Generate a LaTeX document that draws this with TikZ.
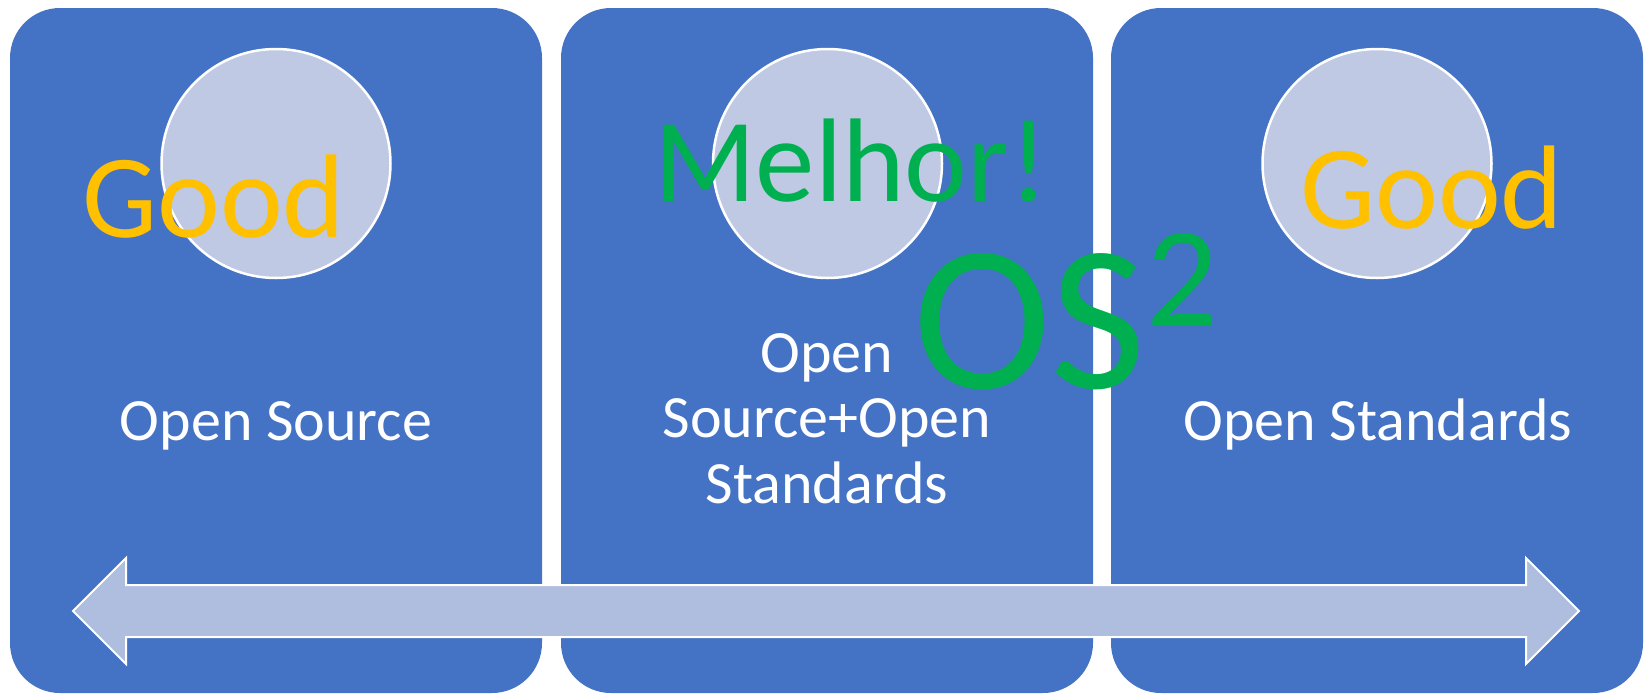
\documentclass[tikz,border=0pt]{standalone}
\usepackage{fontspec}
\setmainfont{Carlito}
\definecolor{panelblue}{HTML}{4472C4}
\definecolor{disclav}{HTML}{BFC9E3}
\definecolor{arrowlav}{HTML}{AFBDDE}
\definecolor{goodyellow}{HTML}{FFC000}
\definecolor{bettergreen}{HTML}{00B050}
\begin{document}
\begin{tikzpicture}[x=1pt,y=-1pt,
  panel/.style={draw=none, fill=panelblue, rounded corners=50pt,
    minimum width=532pt, minimum height=685pt, inner sep=0pt},
  disc/.style={circle, fill=disclav, draw=white, line width=2.5pt,
    minimum size=229pt, inner sep=0pt},
  caption/.style={text=white, font=\fontsize{60}{65.5}\selectfont,
    align=center, anchor=base, inner sep=0pt},
  bigword/.style={font=\fontsize{119}{119}\selectfont, anchor=base, inner sep=0pt},
  band/.style={fill=arrowlav, draw=white, line width=2pt, line join=miter}
]
\useasboundingbox (0,0) rectangle (1644,694);

% three rounded panels
\node[panel] (box1) at (276,350.5) {};
\node[panel] (box2) at (827,350.5) {};
\node[panel] (box3) at (1377,350.5) {};

% discs at the top of each panel
\node[disc] (c1) at (276,163.5) {};
\node[disc] (c2) at (827.5,163.5) {};
\node[disc] (c3) at (1377,163.5) {};

% double-headed band across the bottom
\draw[band] (73,611) -- (126,558) -- (126,585) -- (1526,585) -- (1526,558)
  -- (1579,611) -- (1526,664) -- (1526,637) -- (126,637) -- (126,664) -- cycle;

% panel captions (base of a multi-line node is its last line)
\node[caption] (t1) at (276,440) {Open Source};
\node[caption] (t2) at (827,503) {Open\\Source+Open\\Standards};
\node[caption] (t3) at (1378,440) {Open Standards};

% ratings
\node[bigword, text=goodyellow] (good1) at (214,237) {Good};
\node[bigword, text=bettergreen] (better) at (851,201) {Melhor!};
\node[bigword, text=goodyellow] (good3) at (1432,228) {Good};

% OS squared
\node[anchor=base west, inner sep=0pt, text=bettergreen,
  font=\fontsize{208}{208}\selectfont] (os) at (913,388)
  {OS\raisebox{63pt}{\fontsize{142}{142}\selectfont 2}};
\end{tikzpicture}
\end{document}
